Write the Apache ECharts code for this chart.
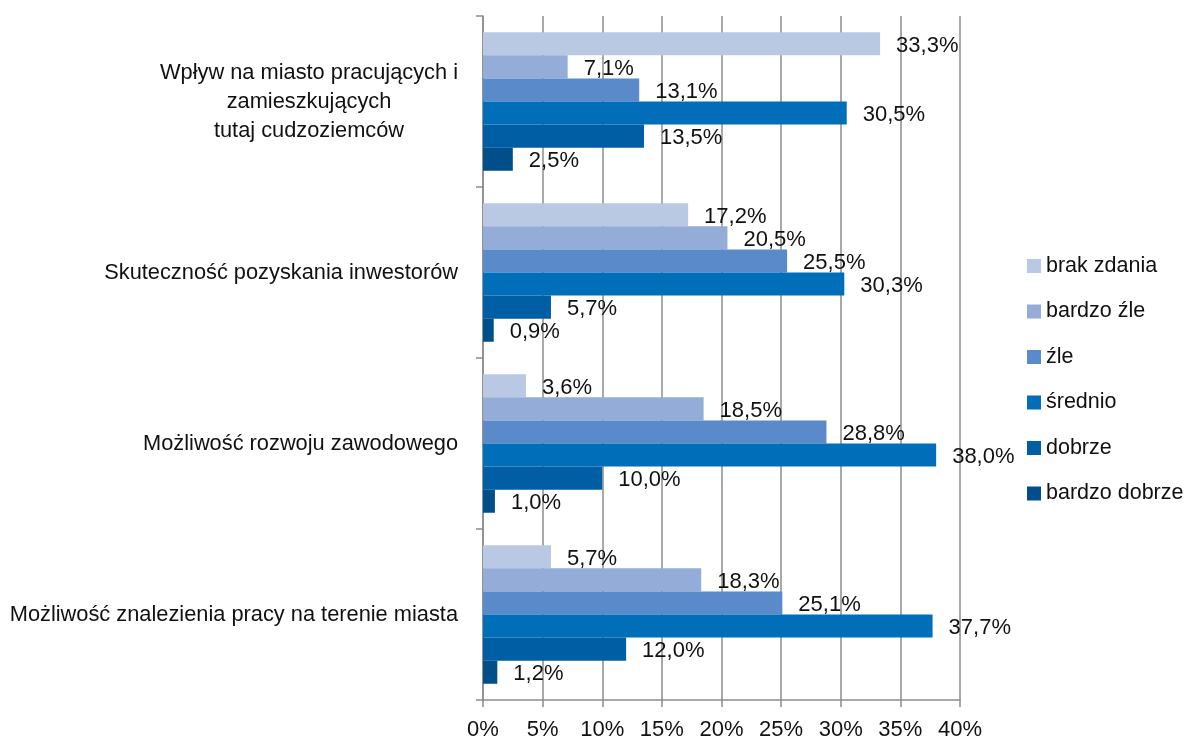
<!DOCTYPE html>
<html>
<head>
<meta charset="utf-8">
<script src="https://cdn.jsdelivr.net/npm/echarts@6/dist/echarts.min.js"></script>
<style>
  html, body { margin: 0; padding: 0; background: #fff; }
  #chart { width: 1186px; height: 743px; }
</style>
</head>
<body>
<div id="chart"></div>
<script>
// kategorie (od góry)
const categories = [
  "Wpływ na miasto pracujących i\nzamieszkujących\ntutaj cudzoziemców",
  "Skuteczność pozyskania inwestorów",
  "Możliwość rozwoju zawodowego",
  "Możliwość znalezienia pracy na terenie miasta"
];
const seriesNames = ["brak zdania", "bardzo źle", "źle", "średnio", "dobrze", "bardzo dobrze"];
// wartości w % dla każdej oceny
const brakZdania = [33.3, 17.2, 3.6, 5.7];
const bardzoZle = [7.1, 20.5, 18.5, 18.3];
const zle = [13.1, 25.5, 28.8, 25.1];
const srednio = [30.5, 30.3, 38.0, 37.7];
const dobrze = [13.5, 5.7, 10.0, 12.0];
const bardzoDobrze = [2.5, 0.9, 1.0, 1.2];
const xTicks = [0, 5, 10, 15, 20, 25, 30, 35, 40];

const seriesValues = [brakZdania, bardzoZle, zle, srednio, dobrze, bardzoDobrze];
const colors = ["#b9c9e4", "#94add8", "#5a8aca", "#006eb8", "#005ea5", "#004f8b"];

const font = '"Liberation Sans", Arial, sans-serif';

const chart = echarts.init(document.getElementById("chart"));
chart.setOption({
  backgroundColor: "#fff",
  animation: false,
  color: colors,
  grid: { left: 483, right: 226, top: 16, bottom: 43, containLabel: false },
  legend: {
    orient: "vertical",
    left: 1022,
    top: 250,
    itemWidth: 14,
    itemHeight: 14,
    itemGap: 23.5,
    icon: "rect",
    data: seriesNames,
    textStyle: { fontFamily: font, fontSize: 21.5, color: "#111" }
  },
  xAxis: {
    type: "value",
    min: xTicks[0],
    max: xTicks[xTicks.length - 1],
    interval: 5,
    axisLine: { show: true, lineStyle: { color: "#8c8c8c", width: 1.5 } },
    axisTick: { show: true, length: 7, lineStyle: { color: "#8c8c8c", width: 1.5 } },
    splitLine: { show: true, lineStyle: { color: "#8c8c8c", width: 1.5 } },
    axisLabel: {
      formatter: "{value}%",
      margin: 19,
      fontFamily: font,
      fontSize: 22,
      color: "#111"
    }
  },
  yAxis: {
    type: "category",
    inverse: true,
    data: categories,
    axisLine: { show: true, lineStyle: { color: "#8c8c8c", width: 1.5 } },
    axisTick: { show: true, length: 7, alignWithLabel: false, lineStyle: { color: "#8c8c8c", width: 1.5 } },
    axisLabel: {
      margin: 25,
      fontFamily: font,
      fontSize: 21.8,
      color: "#111",
      lineHeight: 29,
      formatter: function (v) {
        return v.split("\n").map(function (l) { return "{c|" + l + "}"; }).join("\n");
      },
      rich: {
        c: { align: "center", fontFamily: font, fontSize: 21.8, lineHeight: 29, color: "#111" }
      }
    }
  },
  series: seriesNames.map(function (name, i) {
    return {
      name: name,
      type: "bar",
      data: seriesValues[i],
      barGap: 0,
      barCategoryGap: "19%",
      label: {
        show: true,
        position: "right",
        distance: 16,
        offset: [0, 2],
        fontFamily: font,
        fontSize: 22,
        color: "#111",
        formatter: function (p) { return p.value.toFixed(1).replace(".", ",") + "%"; }
      }
    };
  })
});
</script>
</body>
</html>
